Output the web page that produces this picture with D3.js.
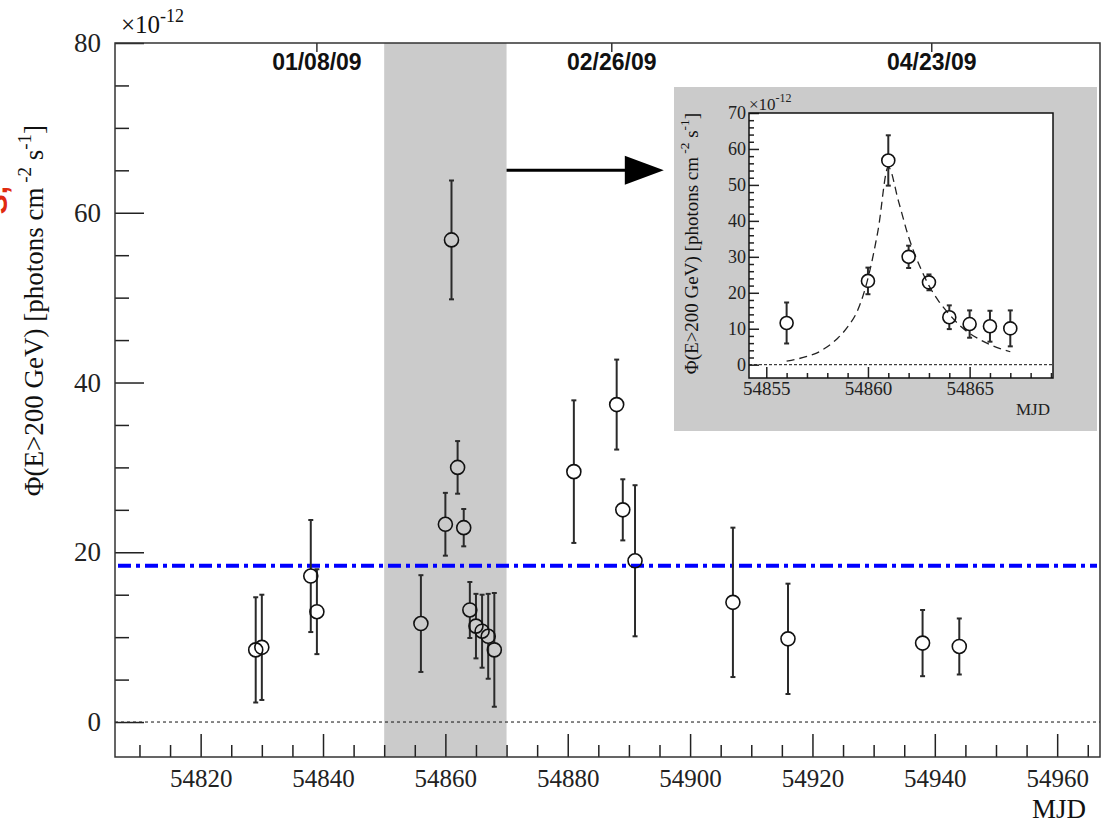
<!DOCTYPE html>
<html>
<head>
<meta charset="utf-8">
<script src="https://cdn.jsdelivr.net/npm/d3@7"></script>
<style>
  body { margin: 0; background: #fff; }
  svg { display: block; }
  text { font-family: 'Liberation Serif', 'Times New Roman', serif; }
</style>
</head>
<body>
<svg id="chart"></svg>
<script>
// light curve points (flux in units of 1e-12 ph cm^-2 s^-1)
const mjd = [54829, 54830, 54838, 54839, 54856, 54860, 54861, 54862, 54863, 54864, 54865,
  54866, 54867, 54868, 54881, 54888, 54889, 54891, 54907, 54916, 54938, 54944];
const flux = [8.5, 8.8, 17.2, 13.0, 11.6, 23.3, 56.8, 30.0, 22.9, 13.2, 11.3,
  10.7, 10.1, 8.5, 29.5, 37.4, 25.0, 19.0, 14.1, 9.8, 9.3, 8.9];
const fluxErr = [6.2, 6.2, 6.6, 5.0, 5.7, 3.7, 7.0, 3.1, 2.2, 3.3, 3.8,
  4.3, 5.0, 6.7, 8.4, 5.3, 3.6, 8.9, 8.8, 6.5, 3.9, 3.3];

const meanFlux = 18.4;
const flareBand = [54850, 54870];
const arrowFrom = [54870, 65];
const arrowTo = [54895.7, 65];

const dateLabels = ['01/08/09', '02/26/09', '04/23/09'];
const dateMjd = [54839, 54887.2, 54939.5];

const xTicks = [54820, 54840, 54860, 54880, 54900, 54920, 54940, 54960];
const yTicks = [0, 20, 40, 60, 80];

// inset: zoom on the flare with the fitted profile (dashed)
const insetRange = [54855, 54867];
const fitMjd = [54856, 54857, 54857.5, 54858, 54858.5, 54859, 54859.5, 54860, 54860.5, 54861,
  54861.5, 54862, 54862.5, 54863, 54863.5, 54864, 54864.5, 54865, 54865.5, 54866, 54866.5, 54867];
const fitFlux = [1.0, 2.3, 3.3, 5.0, 7.3, 10.5, 15.2, 24.0, 37.5, 55.0,
  45.5, 35.5, 28.0, 22.0, 17.5, 14.0, 11.0, 8.7, 7.0, 5.6, 4.5, 3.6];
const insetXTicks = [54855, 54860, 54865];
const insetYTicks = [0, 10, 20, 30, 40, 50, 60, 70];

const width = 1104;
const height = 826;
const frame = { left: 115, top: 43, right: 1100, bottom: 757 };
const serif = "'Liberation Serif', 'Times New Roman', serif";
const sans = "'Liberation Sans', Arial, sans-serif";

const points = mjd.map((m, i) => ({ mjd: m, flux: flux[i], err: fluxErr[i] }));
const fit = fitMjd.map((m, i) => ({ mjd: m, flux: fitFlux[i] }));

const chart = d3.select('#chart')
  .attr('width', width)
  .attr('height', height);

const xScale = d3.scaleLinear()
  .domain([54806, 54967])
  .range([frame.left, frame.right]);

const yScale = d3.scaleLinear()
  .domain([-4.12, 80])
  .range([frame.bottom, frame.top]);

/* flare band */
chart.append('rect')
  .attr('x', xScale(flareBand[0]))
  .attr('y', frame.top)
  .attr('width', xScale(flareBand[1]) - xScale(flareBand[0]))
  .attr('height', frame.bottom - frame.top)
  .attr('fill', '#cbcbcb');

/* zero line */
chart.append('line')
  .attr('x1', frame.left).attr('x2', frame.right)
  .attr('y1', yScale(0)).attr('y2', yScale(0))
  .attr('stroke', '#111')
  .attr('stroke-width', 1)
  .attr('stroke-dasharray', '3,3');

/* mean flux */
chart.append('line')
  .attr('x1', frame.left + 3).attr('x2', frame.right - 3)
  .attr('y1', yScale(meanFlux)).attr('y2', yScale(meanFlux))
  .attr('stroke', '#0000ff')
  .attr('stroke-width', 4)
  .attr('stroke-dasharray', '13,5,4,5');

// error bars stop at the marker edge, like ROOT does
function drawPoints(g, data, x, y, r) {
  const bars = g.append('g')
    .attr('stroke', '#2a2a2a')
    .attr('stroke-width', 2);
  data.forEach(d => {
    const cx = x(d.mjd);
    const cy = y(d.flux);
    const top = y(d.flux + d.err);
    const bot = y(d.flux - d.err);
    bars.append('line').attr('x1', cx).attr('x2', cx).attr('y1', top).attr('y2', cy - r);
    bars.append('line').attr('x1', cx).attr('x2', cx).attr('y1', cy + r).attr('y2', bot);
    bars.append('line').attr('x1', cx - 2.5).attr('x2', cx + 2.5).attr('y1', top).attr('y2', top);
    bars.append('line').attr('x1', cx - 2.5).attr('x2', cx + 2.5).attr('y1', bot).attr('y2', bot);
  });
  g.selectAll('circle.pt')
    .data(data)
    .enter()
    .append('circle')
    .attr('class', 'pt')
    .attr('cx', d => x(d.mjd))
    .attr('cy', d => y(d.flux))
    .attr('r', r)
    .attr('fill', 'none')
    .attr('stroke', '#111')
    .attr('stroke-width', 1.6);
}

drawPoints(chart.append('g'), points, xScale, yScale, 7);

/* Left Axis */
const leftAxis = chart.append('g')
  .attr('transform', `translate(${frame.left}, 0)`)
  .call(d3.axisLeft(yScale).tickValues(yTicks).tickSizeInner(-29).tickSizeOuter(0).tickPadding(14));
chart.append('g')
  .attr('transform', `translate(${frame.left}, 0)`)
  .call(d3.axisLeft(yScale).tickValues(d3.range(5, 80, 5).filter(v => v % 20)).tickSizeInner(-14).tickSizeOuter(0).tickFormat(''));

/* Bottom Axis */
const botAxis = chart.append('g')
  .attr('transform', `translate(0, ${frame.bottom})`)
  .call(d3.axisBottom(xScale).tickValues(xTicks).tickSizeInner(-23).tickSizeOuter(0).tickPadding(12).tickFormat(d3.format('d')));
chart.append('g')
  .attr('transform', `translate(0, ${frame.bottom})`)
  .call(d3.axisBottom(xScale).tickValues(d3.range(54810, 54967, 5).filter(v => v % 20)).tickSizeInner(-12).tickSizeOuter(0).tickFormat(''));

leftAxis.attr('font-family', serif).attr('font-size', 27);
botAxis.attr('font-family', serif).attr('font-size', 25);

/* date ticks on top */
chart.selectAll('line.date')
  .data(dateMjd)
  .enter()
  .append('line')
  .attr('class', 'date')
  .attr('x1', d => xScale(d)).attr('x2', d => xScale(d))
  .attr('y1', frame.top).attr('y2', frame.top + 9)
  .attr('stroke', '#333')
  .attr('stroke-width', 1.5);

chart.selectAll('text.date')
  .data(dateLabels)
  .enter()
  .append('text')
  .attr('class', 'date')
  .attr('x', (d, i) => xScale(dateMjd[i]))
  .attr('y', 70)
  .attr('text-anchor', 'middle')
  .style('font-family', sans)
  .attr('font-weight', 'bold')
  .attr('font-size', 23)
  .attr('fill', '#111')
  .text(d => d);

/* axis titles */
const expo = chart.append('text')
  .attr('x', 121)
  .attr('y', 33)
  .attr('font-size', 25)
  .attr('fill', '#111');
expo.append('tspan').text('×10');
expo.append('tspan').attr('dy', -11).attr('font-size', 18).text('-12');

function yTitle(g, x, y, size) {
  const t = g.append('text')
    .attr('transform', `translate(${x}, ${y}) rotate(-90)`)
    .attr('text-anchor', 'end')
    .attr('font-size', size)
    .attr('fill', '#111');
  t.append('tspan').text('Φ(E>200 GeV) [photons cm');
  t.append('tspan').attr('dy', -0.45 * size).attr('font-size', size * 0.7).text(' -2');
  t.append('tspan').attr('dy', 0.45 * size).text(' s');
  t.append('tspan').attr('dy', -0.45 * size).attr('font-size', size * 0.7).text('-1');
  t.append('tspan').attr('dy', 0.45 * size).text(']');
}
yTitle(chart, 43, 125, 27);

chart.append('text')
  .attr('x', 1086)
  .attr('y', 818)
  .attr('text-anchor', 'end')
  .attr('font-size', 27)
  .attr('fill', '#111')
  .text('MJD');

// red label cut off at the page edge
chart.append('text')
  .attr('transform', 'translate(7, 200) rotate(-90)')
  .attr('text-anchor', 'middle')
  .style('font-family', sans)
  .attr('font-weight', 'bold')
  .attr('font-size', 30)
  .attr('fill', '#e02a10')
  .text('S,');

/* arrow to the inset */
const ax0 = xScale(arrowFrom[0]);
const ax1 = xScale(arrowTo[0]);
const ay = yScale(arrowFrom[1]);
chart.append('line')
  .attr('x1', ax0).attr('x2', ax1 - 30)
  .attr('y1', ay).attr('y2', ay)
  .attr('stroke', '#000')
  .attr('stroke-width', 3);
chart.append('path')
  .attr('d', `M${ax1},${ay} L${ax1 - 39},${ay - 14.5} L${ax1 - 39},${ay + 14.5} Z`)
  .attr('fill', '#000');

/* Inset */
const inset = chart.append('g');
inset.append('rect')
  .attr('x', 674).attr('y', 87)
  .attr('width', 423).attr('height', 344)
  .attr('fill', '#cbcbcb');

const ixScale = d3.scaleLinear()
  .domain([54854.15, 54869.1])
  .range([749, 1053]);
const iyScale = d3.scaleLinear()
  .domain([-3.7, 70])
  .range([378, 113]);

inset.append('rect')
  .attr('x', 749).attr('y', 113)
  .attr('width', 304).attr('height', 265)
  .attr('fill', '#fff');

inset.append('line')
  .attr('x1', 749).attr('x2', 1053)
  .attr('y1', iyScale(0)).attr('y2', iyScale(0))
  .attr('stroke', '#111')
  .attr('stroke-dasharray', '3,2');

inset.append('path')
  .datum(fit)
  .attr('d', d3.line().x(d => ixScale(d.mjd)).y(d => iyScale(d.flux)).curve(d3.curveMonotoneX))
  .attr('fill', 'none')
  .attr('stroke', '#222')
  .attr('stroke-width', 1.3)
  .attr('stroke-dasharray', '8,5');

drawPoints(inset.append('g'),
  points.filter(d => d.mjd >= insetRange[0] && d.mjd <= insetRange[1]),
  ixScale, iyScale, 6.5);

const iLeft = inset.append('g')
  .attr('transform', 'translate(749, 0)')
  .call(d3.axisLeft(iyScale).tickValues(insetYTicks).tickSizeInner(-10).tickSizeOuter(0).tickPadding(3));
inset.append('g')
  .attr('transform', 'translate(749, 0)')
  .call(d3.axisLeft(iyScale).tickValues(d3.range(2, 70, 2).filter(v => v % 10)).tickSizeInner(-5).tickSizeOuter(0).tickFormat(''));
const iBot = inset.append('g')
  .attr('transform', 'translate(0, 378)')
  .call(d3.axisBottom(ixScale).tickValues(insetXTicks).tickSizeInner(-11).tickSizeOuter(0).tickPadding(4).tickFormat(d3.format('d')));
inset.append('g')
  .attr('transform', 'translate(0, 378)')
  .call(d3.axisBottom(ixScale).tickValues(d3.range(54855, 54870, 1).filter(v => v % 5)).tickSizeInner(-5).tickSizeOuter(0).tickFormat(''));
iLeft.attr('font-family', serif).attr('font-size', 18);
iBot.attr('font-family', serif).attr('font-size', 19);

inset.append('rect')
  .attr('x', 749).attr('y', 113)
  .attr('width', 304).attr('height', 265)
  .attr('fill', 'none')
  .attr('stroke', '#111')
  .attr('stroke-width', 1.5);

const iexpo = inset.append('text')
  .attr('x', 749)
  .attr('y', 110)
  .attr('font-size', 17)
  .attr('fill', '#222');
iexpo.append('tspan').text('×10');
iexpo.append('tspan').attr('dy', -8).attr('font-size', 12).text('-12');

yTitle(inset, 698, 113, 19);

inset.append('text')
  .attr('x', 1050)
  .attr('y', 415)
  .attr('text-anchor', 'end')
  .attr('font-size', 17)
  .attr('fill', '#222')
  .text('MJD');

// axis styling
chart.selectAll('.domain').remove();
chart.selectAll('.tick line').attr('stroke', '#222').attr('stroke-width', 1.5);
chart.selectAll('.tick text').attr('fill', '#222');

/* main frame */
chart.append('rect')
  .attr('x', frame.left).attr('y', frame.top)
  .attr('width', frame.right - frame.left)
  .attr('height', frame.bottom - frame.top)
  .attr('fill', 'none')
  .attr('stroke', '#333')
  .attr('stroke-width', 1.5);
</script>
</body>
</html>
